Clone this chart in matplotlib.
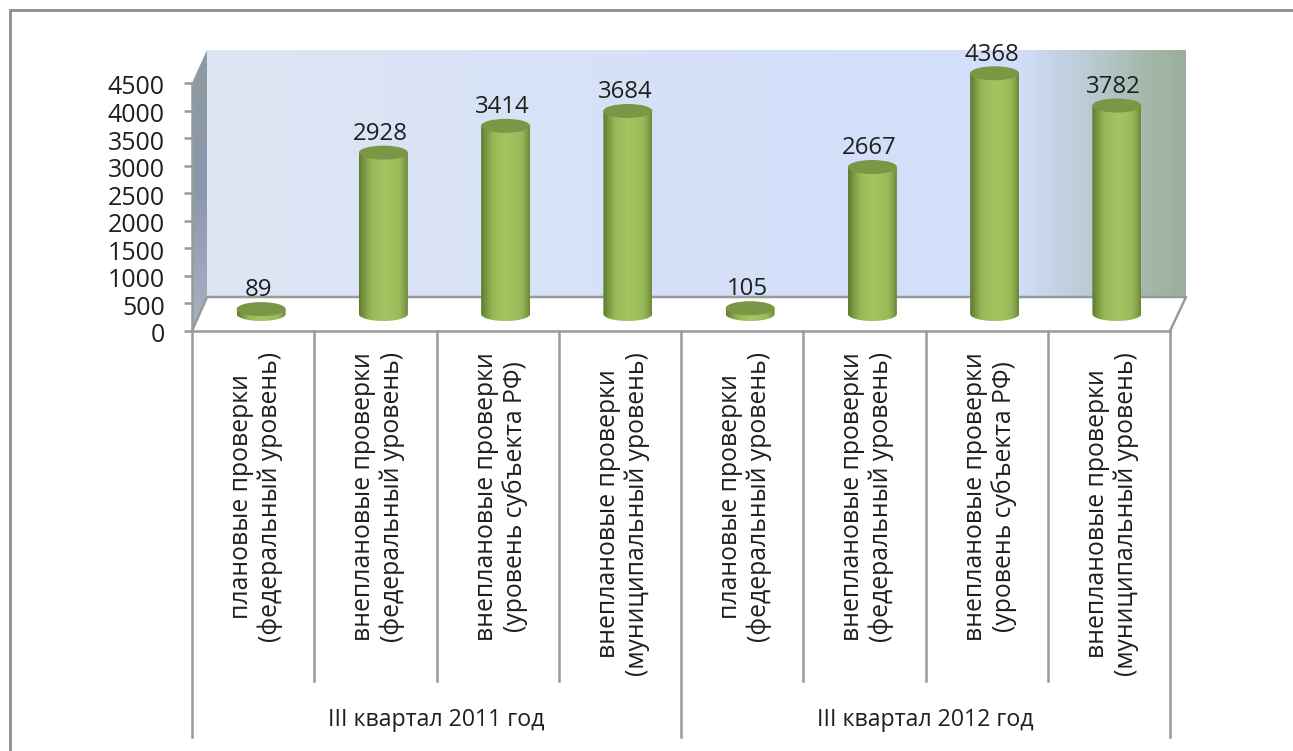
import numpy as np
import matplotlib
matplotlib.use("Agg")
import matplotlib.pyplot as plt
from matplotlib.colors import LinearSegmentedColormap
from matplotlib.patches import Ellipse, Polygon, PathPatch
from matplotlib.path import Path
from matplotlib.transforms import ScaledTranslation, Affine2D

plt.rcParams['font.family'] = ['Open Sans', 'DejaVu Sans']

categories = [
    "плановые проверки\n(федеральный уровень)",
    "внеплановые проверки\n(федеральный уровень)",
    "внеплановые проверки\n(уровень субъекта РФ)",
    "внеплановые проверки\n(муниципальный уровень)",
    "плановые проверки\n(федеральный уровень)",
    "внеплановые проверки\n(федеральный уровень)",
    "внеплановые проверки\n(уровень субъекта РФ)",
    "внеплановые проверки\n(муниципальный уровень)",
]
values = [89, 2928, 3414, 3684, 105, 2667, 4368, 3782]
groups = ["III квартал 2011 год", "III квартал 2012 год"]
group_sizes = [4, 4]
y_ticks = [0, 500, 1000, 1500, 2000, 2500, 3000, 3500, 4000, 4500]

W, H = 1293, 751
DPI = 100
GRID = "#9a9a9a"
TEXT = "#1f1f1f"
fig = plt.figure(figsize=(W / DPI, H / DPI), dpi=DPI, facecolor="white")

# pixel overlay for chart frame and 3D walls
bg = fig.add_axes([0, 0, 1, 1], zorder=0)
bg.set_xlim(0, W); bg.set_ylim(H, 0); bg.axis("off")

bg.plot([9.5, 9.5, 1293], [751, 9.5, 9.5], color="#8c8c8c", lw=2.0, solid_joinstyle="miter")

wall_cmap = LinearSegmentedColormap.from_list("wall", [
    (0.0, "#dde6f3"), (0.45, "#d6e1f8"), (0.83, "#d2dffb"), (0.87, "#c4d3e4"),
    (0.90, "#bccbd6"), (0.958, "#a5b9ab"), (1.0, "#9bb09a")])
bg.imshow(np.linspace(0, 1, 256)[None, :], cmap=wall_cmap, extent=(207, 1186, 297, 50),
          aspect="auto", zorder=1)
bg.set_xlim(0, W); bg.set_ylim(H, 0)

side_cmap = LinearSegmentedColormap.from_list("side", ["#8e9ca0", "#8b97ae", "#aab2c4"])
side = bg.imshow(np.linspace(0, 1, 128)[:, None], cmap=side_cmap, extent=(192, 207, 331, 50),
                 aspect="auto", zorder=1)
side_poly = Polygon([(192, 331), (207, 297), (207, 50), (192, 83)], closed=True,
                    transform=bg.transData, fc="none", ec="none")
bg.add_patch(side_poly)
side.set_clip_path(side_poly)
bg.plot([192, 207, 1186, 1170], [331, 297, 297, 331], color=GRID, lw=1.8, zorder=2)

# main axes: value scale on the front plane
x0, x1, y0, y1 = 192, 1170, 331, 83
ax = fig.add_axes([x0 / W, 1 - y0 / H, (x1 - x0) / W, (y0 - y1) / H], zorder=2)
ax.patch.set_alpha(0)
n = len(values)
ax.set_xlim(-0.5, n - 0.5)
ax.set_ylim(0, 4500)
for s in ("top", "right"):
    ax.spines[s].set_visible(False)
for s in ("left", "bottom"):
    ax.spines[s].set_color(GRID); ax.spines[s].set_linewidth(1.8)
ax.set_yticks(y_ticks)
ax.set_yticklabels([str(v) for v in y_ticks], fontsize=18, color=TEXT)
ax.tick_params(axis="y", length=6, width=1.8, color=GRID, pad=13.5)
for lab in ax.get_yticklabels():
    lab.set_transform(lab.get_transform() + Affine2D().translate(0, -2))
ax.set_xticks(range(n))
ax.set_xticklabels(categories, rotation=90, fontsize=17.8, color=TEXT,
                   ha="center", va="top")
ax.tick_params(axis="x", length=0, pad=15)
for lab in ax.get_xticklabels():
    lab.set_linespacing(1.17)
    lab.set_transform(lab.get_transform() + Affine2D().translate(3, 0))

# bars stand on the mid-depth of the floor
depth = ScaledTranslation(8 / DPI, 17 / DPI, fig.dpi_scale_trans)
tr = ax.transData + depth
bar_w = 49 / ((x1 - x0) / n)
ell_h = 14 / ((y0 - y1) / 4500)
cyl = LinearSegmentedColormap.from_list("cyl", [
    (0.0, "#5f7c32"), (0.1, "#7a963f"), (0.24, "#98b858"), (0.5, "#a3c562"),
    (0.82, "#9bbb5a"), (0.93, "#85a24a"), (1.0, "#6c883a")])
g = np.linspace(0, 1, 64)[None, :]
for i, v in enumerate(values):
    l, r = i - bar_w / 2, i + bar_w / 2
    t = np.linspace(np.pi, 2 * np.pi, 40)
    bx = i + bar_w / 2 * np.cos(t)
    by = ell_h / 2 * np.sin(t)
    verts = list(zip(bx, by)) + [(r, v), (l, v), (l, 0)]
    clip = PathPatch(Path(verts), transform=tr, fc="none", ec="none")
    ax.add_patch(clip)
    im = ax.imshow(g, cmap=cyl, extent=(l, r, -ell_h / 2, v), aspect="auto",
                   transform=tr, zorder=3)
    im.set_clip_box(fig.bbox)
    im.set_clip_path(clip)
    ax.add_patch(Ellipse((i, v), bar_w, ell_h, fc="#7b9644", ec="none", transform=tr,
                         zorder=4, clip_on=False))
    ax.text(i - 0.025, v + ell_h / 2 - 5, str(v), ha="center", va="bottom", fontsize=17.3,
            color=TEXT, transform=tr, zorder=5, clip_on=False)
ax.set_xlim(-0.5, n - 0.5)
ax.set_ylim(0, 4500)

# multi-level category dividers
xaxis_tr = ax.get_xaxis_transform()
pos = 0
py = lambda p: -(p - y0) / (y0 - y1)
ax.plot([-0.5, -0.5], [py(331), py(737)], color=GRID, lw=1.8, transform=xaxis_tr, clip_on=False)
for g_name, size in zip(groups, group_sizes):
    for j in range(1, size):
        ax.plot([pos + j - 0.5] * 2, [py(331), py(681)], color=GRID, lw=1.8,
                transform=xaxis_tr, clip_on=False)
    ax.plot([pos + size - 0.5] * 2, [py(331), py(737)], color=GRID, lw=1.8,
            transform=xaxis_tr, clip_on=False)
    ax.text(pos + size / 2 - 0.5, py(720), g_name, ha="center", va="center", fontsize=16.7,
            color=TEXT, transform=xaxis_tr, clip_on=False)
    pos += size
ax.set_xlim(-0.5, n - 0.5)

fig.savefig("out.png", dpi=DPI)
